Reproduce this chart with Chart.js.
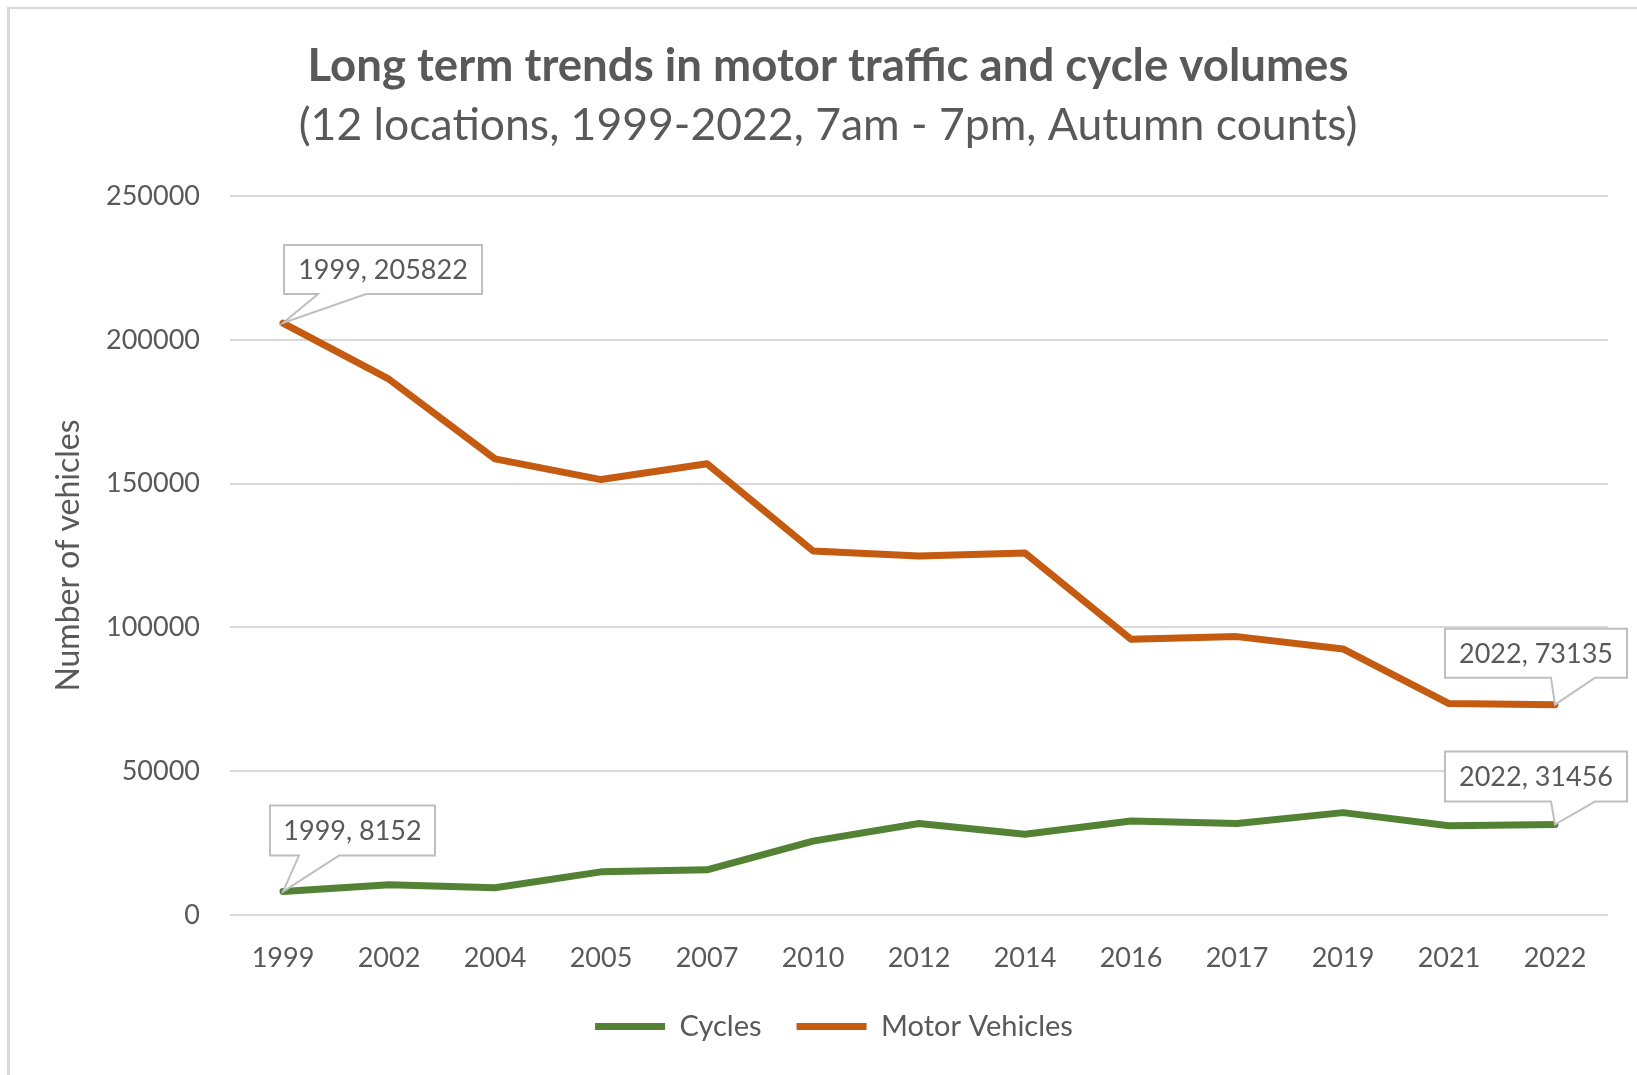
<!DOCTYPE html>
<html>
<head>
<meta charset="utf-8">
<script src="https://cdn.jsdelivr.net/npm/chart.js@4.4.0/dist/chart.umd.min.js"></script>
<style>
html,body{margin:0;padding:0;background:#fff;overflow:hidden}
canvas{display:block}
</style>
</head>
<body>
<canvas id="c" width="1637" height="1075"></canvas>
<script>
// ---- data ----
const titleText = 'Long term trends in motor traffic and cycle volumes';
const subtitleText = '(12 locations, 1999-2022, 7am - 7pm, Autumn counts)';
const yAxisTitle = 'Number of vehicles';
const years = ['1999','2002','2004','2005','2007','2010','2012','2014','2016','2017','2019','2021','2022'];
const cycles = [8152, 10500, 9460, 15000, 15700, 25700, 31800, 28100, 32700, 31800, 35600, 31000, 31456];
const motorVehicles = [205822, 186300, 158600, 151400, 156900, 126600, 124800, 125900, 95900, 96800, 92500, 73500, 73135];
const seriesNames = ['Cycles', 'Motor Vehicles'];
const yTicks = [0, 50000, 100000, 150000, 200000, 250000];

// ---- styles ----
const FONT = 'Lato, "Open Sans", "DejaVu Sans", sans-serif';
const GREY_TEXT = '#595959';
const GRID = '#d9d9d9';
const COLORS = ['#548235', '#C55A11'];

// fit title font sizes to reference widths
function fitSize(text, weight, target) {
  const c = document.createElement('canvas').getContext('2d');
  c.font = weight + ' 100px ' + FONT;
  return 100 * target / c.measureText(text).width;
}
const titleSize = fitSize(titleText, 'bold', 1041);
const subtitleSize = fitSize(subtitleText, 'normal', 1059);

const framePlugin = {
  id: 'frame',
  beforeDraw(chart) {
    const ctx = chart.ctx;
    ctx.save();
    ctx.fillStyle = '#ffffff';
    ctx.fillRect(0, 0, chart.width, chart.height);
    ctx.fillStyle = '#d9d9d9';
    ctx.fillRect(7, 7, 3, chart.height);
    ctx.fillRect(7, 7, chart.width, 2);
    ctx.fillStyle = GREY_TEXT;
    ctx.textAlign = 'center';
    ctx.textBaseline = 'alphabetic';
    ctx.font = 'bold ' + titleSize + 'px ' + FONT;
    ctx.fillText(titleText, 828, 81);
    ctx.font = 'normal ' + subtitleSize + 'px ' + FONT;
    ctx.fillText(subtitleText, 828, 140);
    ctx.restore();
  }
};

const calloutDefs = [
  {ds: 1, idx: 0,  dx: 1,    dy: -78, w: 198, h: 49, t0: 34,  t1: 82},
  {ds: 0, idx: 0,  dx: -13,  dy: -86, w: 165, h: 50, t0: 29,  t1: 69},
  {ds: 1, idx: 12, dx: -110, dy: -76, w: 182, h: 49, t0: 106, t1: 150},
  {ds: 0, idx: 12, dx: -110, dy: -73, w: 182, h: 50, t0: 106, t1: 150}
];

const calloutPlugin = {
  id: 'callouts',
  afterDatasetsDraw(chart) {
    const ctx = chart.ctx;
    ctx.save();
    calloutDefs.forEach(c => {
      const pt = chart.getDatasetMeta(c.ds).data[c.idx];
      const px = pt.x, py = pt.y;
      const L = px + c.dx, T = py + c.dy, R = L + c.w, B = T + c.h;
      ctx.beginPath();
      ctx.moveTo(L, T);
      ctx.lineTo(R, T);
      ctx.lineTo(R, B);
      ctx.lineTo(L + c.t1, B);
      ctx.lineTo(px, py);
      ctx.lineTo(L + c.t0, B);
      ctx.lineTo(L, B);
      ctx.closePath();
      ctx.fillStyle = '#ffffff';
      ctx.fill();
      ctx.lineWidth = 2;
      ctx.strokeStyle = '#bfbfbf';
      ctx.lineJoin = 'miter';
      ctx.stroke();
      const ds = chart.data.datasets[c.ds];
      const text = chart.data.labels[c.idx] + ', ' + ds.data[c.idx];
      ctx.fillStyle = GREY_TEXT;
      ctx.font = '27px ' + FONT;
      ctx.textAlign = 'center';
      ctx.textBaseline = 'alphabetic';
      ctx.fillText(text, L + c.w / 2, T + c.h / 2 + 9.7);
    });
    ctx.restore();
  }
};

new Chart(document.getElementById('c'), {
  type: 'line',
  data: {
    labels: years,
    datasets: [
      {label: seriesNames[0], data: cycles, borderColor: COLORS[0], backgroundColor: COLORS[0],
       borderWidth: 7, pointRadius: 0, pointHoverRadius: 0, tension: 0,
       borderCapStyle: 'round', borderJoinStyle: 'round', fill: false},
      {label: seriesNames[1], data: motorVehicles, borderColor: COLORS[1], backgroundColor: COLORS[1],
       borderWidth: 7, pointRadius: 0, pointHoverRadius: 0, tension: 0,
       borderCapStyle: 'round', borderJoinStyle: 'round', fill: false}
    ]
  },
  options: {
    responsive: false,
    devicePixelRatio: 1,
    animation: false,
    events: [],
    layout: {padding: {top: 196, left: 60, right: 29, bottom: 24}},
    scales: {
      x: {
        type: 'category',
        offset: true,
        grid: {display: false, drawTicks: false},
        border: {display: false},
        ticks: {color: GREY_TEXT, font: {family: FONT, size: 27}, padding: 27, maxRotation: 0, autoSkip: false},
        afterFit(s) { s.height = 62; }
      },
      y: {
        type: 'linear',
        min: 0,
        max: 250000,
        afterBuildTicks(s) { s.ticks = yTicks.map(v => ({value: v})); },
        grid: {color: GRID, lineWidth: 2, drawTicks: false},
        border: {display: false},
        ticks: {color: GREY_TEXT, font: {family: FONT, size: 27}, padding: 30, callback: v => String(v)},
        title: {display: true, text: yAxisTitle, color: GREY_TEXT, font: {family: FONT, size: 32}, padding: {top: -11, bottom: 0}},
        afterFit(s) { s.width = 170; }
      }
    },
    plugins: {
      legend: {
        display: true,
        position: 'bottom',
        labels: {
          color: GREY_TEXT,
          font: {family: FONT, size: 29},
          usePointStyle: true,
          pointStyle: 'line',
          pointStyleWidth: 70,
          padding: 35
        }
      },
      title: {display: false},
      tooltip: {enabled: false}
    }
  },
  plugins: [framePlugin, calloutPlugin]
});
</script>
</body>
</html>
